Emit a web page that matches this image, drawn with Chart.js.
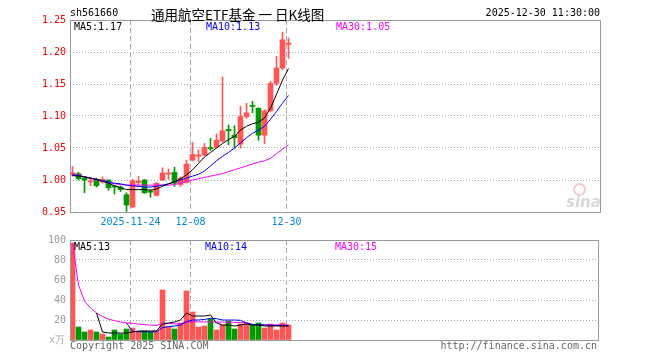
<!DOCTYPE html>
<html><head><meta charset="utf-8">
<script src="https://cdn.jsdelivr.net/npm/chart.js@4.4.1/dist/chart.umd.min.js"></script>
<style>
html,body{margin:0;padding:0;background:#fff;width:660px;height:360px;overflow:hidden;position:relative;}
.t{position:absolute;font-family:"DejaVu Sans Mono",monospace;font-size:10px;line-height:12px;white-space:pre;}
canvas{position:absolute;left:0;}
#c1{top:0;}
#c2{top:230px;}
</style></head><body>
<canvas id="c1" width="660" height="232" style="width:660px;height:232px"></canvas>
<canvas id="c2" width="660" height="130" style="width:660px;height:130px"></canvas>
<div class="t" style="left:70px;top:7px;color:#000">sh561660</div>
<div class="t" style="left:151px;top:5px;font-family:'Noto Sans CJK SC',sans-serif;font-size:13.5px;line-height:18px;color:#000">通用航空ETF基金 一 日K线图</div>
<div class="t" style="right:60px;top:7px;color:#000">2025-12-30 11:30:00</div>
<div class="t" style="left:74px;top:21px;color:#000">MA5:1.17</div>
<div class="t" style="left:206px;top:21px;color:#0000ff">MA10:1.13</div>
<div class="t" style="left:336px;top:21px;color:#ff00ff">MA30:1.05</div>
<div class="t" style="left:74px;top:241px;color:#000">MA5:13</div>
<div class="t" style="left:205px;top:241px;color:#0000ff">MA10:14</div>
<div class="t" style="left:335px;top:241px;color:#ff00ff">MA30:15</div>
<div class="t" style="left:49px;top:334px;color:#aaa">x万</div>
<div class="t" style="left:70px;top:340px;color:#666">Copyright 2025 SINA.COM</div>
<div class="t" style="right:63px;top:340px;color:#666">http://finance.sina.com.cn</div>
<div style="position:absolute;left:573px;top:183px;width:9px;height:9px;border:2px solid #f6c8c8;border-radius:50%;"></div>
<div class="t" style="left:566px;top:194px;font-family:'DejaVu Sans',sans-serif;font-size:15px;line-height:16px;font-style:italic;font-weight:bold;color:#d8d8d8">sina</div>
<script>
// ---- data ----
const days = ["2025-11-10","2025-11-11","2025-11-12","2025-11-13","2025-11-14",
  "2025-11-17","2025-11-18","2025-11-19","2025-11-20","2025-11-21",
  "2025-11-24","2025-11-25","2025-11-26","2025-11-27","2025-11-28",
  "2025-12-01","2025-12-02","2025-12-03","2025-12-04","2025-12-05",
  "2025-12-08","2025-12-09","2025-12-10","2025-12-11","2025-12-12",
  "2025-12-15","2025-12-16","2025-12-17","2025-12-18","2025-12-19",
  "2025-12-22","2025-12-23","2025-12-24","2025-12-25","2025-12-26",
  "2025-12-29","2025-12-30"];
const openP  = [1.008,1.010,1.003,0.997,1.001,0.997,1.000,0.990,0.989,0.977,0.958,0.996,1.000,0.982,0.976,1.000,1.009,1.012,0.993,0.996,1.031,1.037,1.039,1.050,1.051,1.061,1.079,1.070,1.056,1.099,1.116,1.112,1.070,1.108,1.151,1.175,1.212];
const highP  = [1.021,1.012,1.004,1.004,1.003,1.005,1.000,0.991,0.991,0.980,1.001,1.006,1.001,0.985,0.996,1.019,1.017,1.020,1.005,1.031,1.059,1.047,1.057,1.065,1.072,1.161,1.086,1.085,1.115,1.120,1.123,1.113,1.110,1.154,1.193,1.231,1.222];
const lowP   = [1.006,1.000,0.980,0.991,0.989,0.995,0.984,0.978,0.982,0.951,0.957,0.989,0.979,0.973,0.975,0.999,1.001,0.990,0.990,0.995,1.030,1.029,1.038,1.046,1.050,1.059,1.055,1.050,1.050,1.096,1.105,1.062,1.057,1.107,1.148,1.172,1.190];
const closeP = [1.011,1.002,1.000,0.998,0.991,1.001,0.988,0.989,0.985,0.961,0.999,0.998,0.980,0.981,0.995,1.011,1.011,0.995,1.003,1.025,1.040,1.039,1.051,1.049,1.062,1.077,1.077,1.066,1.099,1.105,1.115,1.070,1.108,1.151,1.175,1.219,1.214];
const ma5P  = [1.007,1.006,1.005,1.003,1.001,0.998,0.995,0.991,0.988,0.985,0.985,0.985,0.985,0.984,0.986,0.990,0.994,0.997,1.002,1.008,1.016,1.026,1.036,1.043,1.050,1.057,1.063,1.068,1.078,1.084,1.088,1.090,1.097,1.112,1.134,1.156,1.174];
const ma10P = [1.008,1.007,1.005,1.003,1.001,0.999,0.997,0.995,0.994,0.992,0.991,0.990,0.989,0.989,0.990,0.992,0.994,0.997,1.000,1.003,1.006,1.009,1.014,1.022,1.030,1.037,1.043,1.050,1.058,1.066,1.073,1.078,1.084,1.095,1.107,1.120,1.132];
const ma30P = [1.010,1.008,1.005,1.002,1.000,0.998,0.996,0.994,0.993,0.992,0.992,0.992,0.992,0.992,0.992,0.992,0.992,0.993,0.995,0.998,1.000,1.002,1.004,1.006,1.008,1.010,1.013,1.016,1.019,1.022,1.025,1.028,1.030,1.034,1.041,1.048,1.055];
const vol   = [97,13,8,10,8,6,3,10,6,11,12,8,9,8,9,50,13,11,17,49,28,13,14,21,10,15,19,11,16,17,15,17,12,16,10,17,15];
const ma5V  = [null,null,null,null,27,8,7,7,7,7,8,9,9,9,9,16,17,18,20,27,24,24,24,25,17,15,15,14,15,16,15,15,14,14,14,14,14];
const ma10V = [null,null,null,null,null,null,null,null,null,17,8.7,8.3,8.3,8.2,8.3,12.4,13.4,14,15,18.4,20,20,20.6,21.6,21.4,20,20,20,19.7,17,15.5,15.3,15.1,14.8,14.6,14.5,14.4];
const ma30V = [97,55,39,32,27,23.5,20.7,19.4,17.9,17.2,16.7,16,15.4,14.9,14.5,16.7,16.5,16.2,16.3,17.9,18.4,18.2,18,18.2,17.9,17.8,17.8,17.6,17.5,17.3,15.5,15.2,15.1,15.1,15.1,15.1,15.0];
const tickLabels = ["2025-11-24","12-08","12-30"];
const tickDays   = ["2025-11-24","2025-12-08","2025-12-30"];

// ---- styles / layout ----
const RED = '#ff5555', GREEN = '#009900';
const STEP = 6;              // pixels per trading day
const FONT = {family:'DejaVu Sans Mono', size:10};
const upColor = days.map((d,i)=> closeP[i] >= openP[i] ? RED : GREEN);
const idx = days.map((d,i)=>i);
const tickPos = tickDays.map(d => days.indexOf(d) - 2/STEP);

const frame = {id:'frame', afterDraw(c){
  const a=c.chartArea, x=c.ctx; x.save(); x.strokeStyle='#999'; x.lineWidth=1;
  x.strokeRect(Math.round(a.left)+0.5, Math.round(a.top)+0.5, Math.round(a.right-a.left), Math.round(a.bottom-a.top));
  x.restore();}};

function xScale(widthPx, showLabels){
  const min = -2.5/STEP;
  return {type:'linear', min:min, max:min + widthPx/STEP, offset:false,
    grid:{display:true, color:'#aaa', drawTicks:false, offset:false},
    border:{display:false, dash:[5,3]},
    afterBuildTicks: s => { s.ticks = tickPos.map(v=>({value:v})); },
    afterFit: s => { s.height = 20; },
    ticks:{display:showLabels, autoSkip:false, maxRotation:0, minRotation:0, color:'#0088dd', font:FONT, padding:4,
      callback:(v,k)=>tickLabels[k]}};
}
const lineDs = (data,color)=>({type:'line', data: idx.map(i=>({x:i,y:data[i]})), borderColor:color, borderWidth:1,
  pointRadius:0, tension:0, order:0, spanGaps:false});

new Chart(document.getElementById('c1'), {
  type:'bar',
  data:{datasets:[
    lineDs(ma5P,'#000000'), lineDs(ma10P,'#0000ff'), lineDs(ma30P,'#ff00ff'),
    {type:'bar', data: idx.map(i=>({x:i, y:[openP[i], closeP[i]]})), backgroundColor:upColor, borderWidth:0,
      barThickness:5, minBarLength:1, grouped:false, order:1},
    {type:'bar', data: idx.map(i=>({x:i, y:[lowP[i], highP[i]]})), backgroundColor:upColor, borderWidth:0,
      barThickness:1, grouped:false, order:2}
  ]},
  options:{responsive:false, animation:false, devicePixelRatio:1,
    layout:{padding:{left:0, top:20, right:60, bottom:0}},
    plugins:{legend:{display:false}, tooltip:{enabled:false}},
    scales:{
      x: xScale(530, true),
      y: {min:0.95, max:1.25, ticks:{stepSize:0.05, color:'#ff0000', font:FONT, padding:4, callback:v=>Number(v).toFixed(2)},
          grid:{color:'#aaa', drawTicks:false}, border:{display:false, dash:[1,2]}, afterFit: s=>{s.width=70;}}
    }},
  plugins:[frame]
});

new Chart(document.getElementById('c2'), {
  type:'bar',
  data:{datasets:[
    lineDs(ma5V,'#000000'), lineDs(ma10V,'#0000ff'), lineDs(ma30V,'#ff00ff'),
    {type:'bar', data: idx.map(i=>({x:i, y:vol[i]})), backgroundColor:upColor, borderWidth:0,
      barThickness:5, grouped:false, order:1}
  ]},
  options:{responsive:false, animation:false, devicePixelRatio:1,
    layout:{padding:{left:0, top:10, right:62, bottom:0}},
    plugins:{legend:{display:false}, tooltip:{enabled:false}},
    scales:{
      x: xScale(528, false),
      y: {min:0, max:100, ticks:{stepSize:20, color:'#999', font:FONT, padding:4, callback:v=> v===0 ? '' : v},
          grid:{color:'#aaa', drawTicks:false}, border:{display:false, dash:[1,2]}, afterFit: s=>{s.width=70;}}
    }},
  plugins:[frame]
});
</script>
</body></html>
